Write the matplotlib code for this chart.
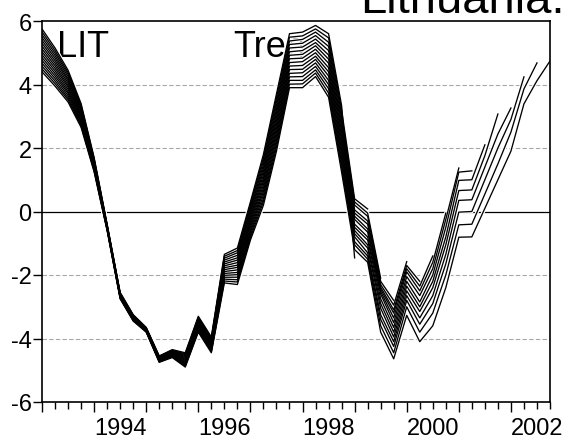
import numpy as np
import matplotlib
matplotlib.use("Agg")
import matplotlib.pyplot as plt

plt.rcParams['font.family'] = ['Liberation Sans', 'DejaVu Sans']

# Trend estimates, one list per sample end, all starting in 1993Q1 (quarterly)
trend_to_1999q1 = [5.75, 5.15, 4.45, 3.40, 1.70, -0.40, -2.55, -3.25, -3.65, -4.55, -4.35, -4.45, -3.30, -3.95,
                   -1.35, -1.15, 0.30, 1.80, 3.70, 5.60, 5.65, 5.86, 5.60, 3.34, -1.46]
trend_to_1999q2 = [5.66, 5.07, 4.38, 3.35, 1.67, -0.41, -2.56, -3.26, -3.66, -4.56, -4.37, -4.48, -3.33, -3.98,
                   -1.41, -1.23, 0.22, 1.69, 3.58, 5.49, 5.53, 5.75, 5.47, 3.20, 0.40, 0.08]
trend_to_1999q3 = [5.57, 4.99, 4.32, 3.30, 1.64, -0.43, -2.58, -3.28, -3.67, -4.58, -4.38, -4.51, -3.37, -4.02,
                   -1.47, -1.30, 0.14, 1.59, 3.46, 5.37, 5.42, 5.65, 5.33, 3.06, 0.30, -0.05, -2.10]
trend_to_1999q4 = [5.48, 4.91, 4.25, 3.25, 1.61, -0.44, -2.59, -3.29, -3.68, -4.59, -4.40, -4.54, -3.40, -4.05,
                   -1.53, -1.38, 0.06, 1.48, 3.34, 5.26, 5.30, 5.54, 5.20, 2.92, 0.20, -0.15, -2.20, -2.80]
trend_to_2000q1 = [5.39, 4.83, 4.18, 3.20, 1.58, -0.45, -2.60, -3.30, -3.69, -4.60, -4.42, -4.57, -3.43, -4.08,
                   -1.59, -1.46, -0.02, 1.37, 3.22, 5.15, 5.18, 5.43, 5.07, 2.78, 0.05, -0.30, -2.30, -2.95,
                   -1.58]
trend_to_2000q2 = [5.30, 4.75, 4.12, 3.15, 1.55, -0.47, -2.62, -3.32, -3.70, -4.62, -4.43, -4.60, -3.47, -4.12,
                   -1.65, -1.53, -0.10, 1.27, 3.10, 5.03, 5.07, 5.32, 4.93, 2.64, -0.05, -0.40, -2.38, -3.10,
                   -1.70, -2.20]
trend_to_2000q3 = [5.21, 4.67, 4.05, 3.10, 1.52, -0.48, -2.63, -3.33, -3.71, -4.63, -4.45, -4.63, -3.50, -4.15,
                   -1.71, -1.61, -0.18, 1.16, 2.98, 4.92, 4.95, 5.22, 4.80, 2.50, -0.15, -0.55, -2.45, -3.20,
                   -1.80, -2.35, -1.40]
trend_to_2000q4 = [5.12, 4.59, 3.98, 3.05, 1.49, -0.49, -2.64, -3.34, -3.72, -4.64, -4.47, -4.66, -3.53, -4.18,
                   -1.77, -1.69, -0.26, 1.05, 2.86, 4.81, 4.83, 5.11, 4.67, 2.36, -0.25, -0.65, -2.52, -3.35,
                   -1.90, -2.50, -1.60, -0.05]
trend_to_2001q1 = [5.03, 4.51, 3.92, 3.00, 1.46, -0.51, -2.66, -3.36, -3.73, -4.66, -4.48, -4.69, -3.57, -4.22,
                   -1.83, -1.76, -0.34, 0.95, 2.74, 4.69, 4.72, 5.00, 4.53, 2.22, -0.40, -0.80, -2.60, -3.50,
                   -2.05, -2.65, -1.80, -0.25, 1.37]
trend_to_2001q2 = [4.94, 4.43, 3.85, 2.95, 1.43, -0.52, -2.67, -3.37, -3.74, -4.67, -4.50, -4.72, -3.60, -4.25,
                   -1.89, -1.84, -0.42, 0.84, 2.62, 4.58, 4.60, 4.89, 4.40, 2.08, -0.50, -0.90, -2.75, -3.65,
                   -2.20, -2.85, -2.00, -0.50, 1.24, 1.28]
trend_to_2001q3 = [4.85, 4.35, 3.78, 2.90, 1.40, -0.53, -2.68, -3.38, -3.75, -4.68, -4.52, -4.75, -3.63, -4.28,
                   -1.95, -1.92, -0.50, 0.73, 2.50, 4.47, 4.48, 4.79, 4.27, 1.94, -0.60, -1.05, -2.90, -3.80,
                   -2.35, -3.00, -2.20, -0.80, 0.98, 1.00, 2.10]
trend_to_2001q4 = [4.76, 4.27, 3.72, 2.85, 1.37, -0.55, -2.70, -3.40, -3.76, -4.70, -4.53, -4.78, -3.67, -4.32,
                   -2.01, -1.99, -0.58, 0.63, 2.38, 4.35, 4.37, 4.68, 4.13, 1.80, -0.70, -1.15, -3.05, -3.95,
                   -2.50, -3.15, -2.40, -1.05, 0.66, 0.68, 1.76, 3.07]
trend_to_2002q1 = [4.67, 4.19, 3.65, 2.80, 1.34, -0.56, -2.71, -3.41, -3.77, -4.71, -4.55, -4.81, -3.70, -4.35,
                   -2.07, -2.07, -0.66, 0.52, 2.26, 4.24, 4.25, 4.57, 4.00, 1.66, -0.80, -1.30, -3.25, -4.10,
                   -2.65, -3.35, -2.65, -1.35, 0.35, 0.37, 1.40, 2.44, 3.26]
trend_to_2002q2 = [4.58, 4.11, 3.58, 2.75, 1.31, -0.57, -2.72, -3.42, -3.78, -4.72, -4.57, -4.84, -3.73, -4.38,
                   -2.13, -2.15, -0.74, 0.41, 2.14, 4.13, 4.13, 4.46, 3.87, 1.52, -0.95, -1.40, -3.40, -4.25,
                   -2.80, -3.55, -2.90, -1.65, -0.02, 0.00, 1.00, 2.00, 2.90, 4.24]
trend_to_2002q3 = [4.49, 4.03, 3.52, 2.70, 1.28, -0.59, -2.74, -3.44, -3.79, -4.74, -4.58, -4.87, -3.77, -4.42,
                   -2.19, -2.22, -0.82, 0.31, 2.02, 4.01, 4.02, 4.36, 3.73, 1.38, -1.05, -1.50, -3.60, -4.45,
                   -3.00, -3.80, -3.20, -2.00, -0.42, -0.40, 0.55, 1.50, 2.50, 3.86, 4.68]
trend_to_2002q4 = [4.40, 3.95, 3.45, 2.65, 1.25, -0.60, -2.75, -3.45, -3.80, -4.75, -4.60, -4.90, -3.80, -4.45,
                   -2.25, -2.30, -0.90, 0.20, 1.90, 3.90, 3.90, 4.25, 3.60, 1.24, -1.20, -1.60, -3.80, -4.64,
                   -3.27, -4.10, -3.60, -2.40, -0.81, -0.80, 0.10, 1.00, 1.90, 3.39, 4.12, 4.74]

vintages = [trend_to_1999q1, trend_to_1999q2, trend_to_1999q3, trend_to_1999q4,
            trend_to_2000q1, trend_to_2000q2, trend_to_2000q3, trend_to_2000q4,
            trend_to_2001q1, trend_to_2001q2, trend_to_2001q3, trend_to_2001q4,
            trend_to_2002q1, trend_to_2002q2, trend_to_2002q3, trend_to_2002q4]

start_year = 1993
years = list(range(1993, 2003))
year_labels = ['', '1994', '', '1996', '', '1998', '', '2000', '', '2002']
y_ticks = [-6, -4, -2, 0, 2, 4, 6]

fig = plt.figure(figsize=(5.68, 4.39), dpi=100)
ax = fig.add_axes([42 / 568, 1 - 403 / 439, 508 / 568, 381 / 439])

# grid lines like the eviews default
for g in [-4, -2, 2, 4]:
    ax.axhline(g, color='#a8a8a8', lw=0.8, ls=(0, (4, 2)), zorder=0)
ax.axhline(0, color='black', lw=0.9, zorder=0)

ax.text(0.03, 0.908, 'LIT', transform=ax.transAxes, fontsize=26, va='baseline', zorder=1)
ax.text(0.376, 0.908, 'Trend', transform=ax.transAxes, fontsize=26, va='baseline', zorder=1)

# white under-stroke first (hides text/grid behind the lines), then the black lines on top
for v in vintages:
    x = start_year + np.arange(len(v)) / 4.0
    ax.plot(x, v, color='white', lw=2.6, zorder=2, solid_capstyle='round')
for v in vintages:
    x = start_year + np.arange(len(v)) / 4.0
    ax.plot(x, v, color='black', lw=0.95, zorder=3)

ax.set_xlim(1993, 2002.75)
ax.set_ylim(-6, 6)

ax.set_xticks(years)
ax.set_xticklabels(year_labels)
for lab in ax.get_xticklabels():
    lab.set_ha('left')
ax.set_xticks(start_year + np.arange(40) / 4.0, minor=True)
ax.set_yticks(y_ticks)
ax.set_yticklabels([str(t) for t in y_ticks])

ax.tick_params(axis='x', which='major', direction='out', length=7, width=1, pad=4, labelsize=17)
ax.tick_params(axis='x', which='minor', direction='out', length=5, width=1)
ax.tick_params(axis='y', direction='out', length=6.5, width=1, pad=1, labelsize=17)

for s in ax.spines.values():
    s.set_linewidth(1.2)
    s.set_color('black')

fig.text(360 / 568, 1 - 13 / 439, 'Lithuania.', fontsize=34, va='baseline')

fig.savefig('out.png', dpi=100)
